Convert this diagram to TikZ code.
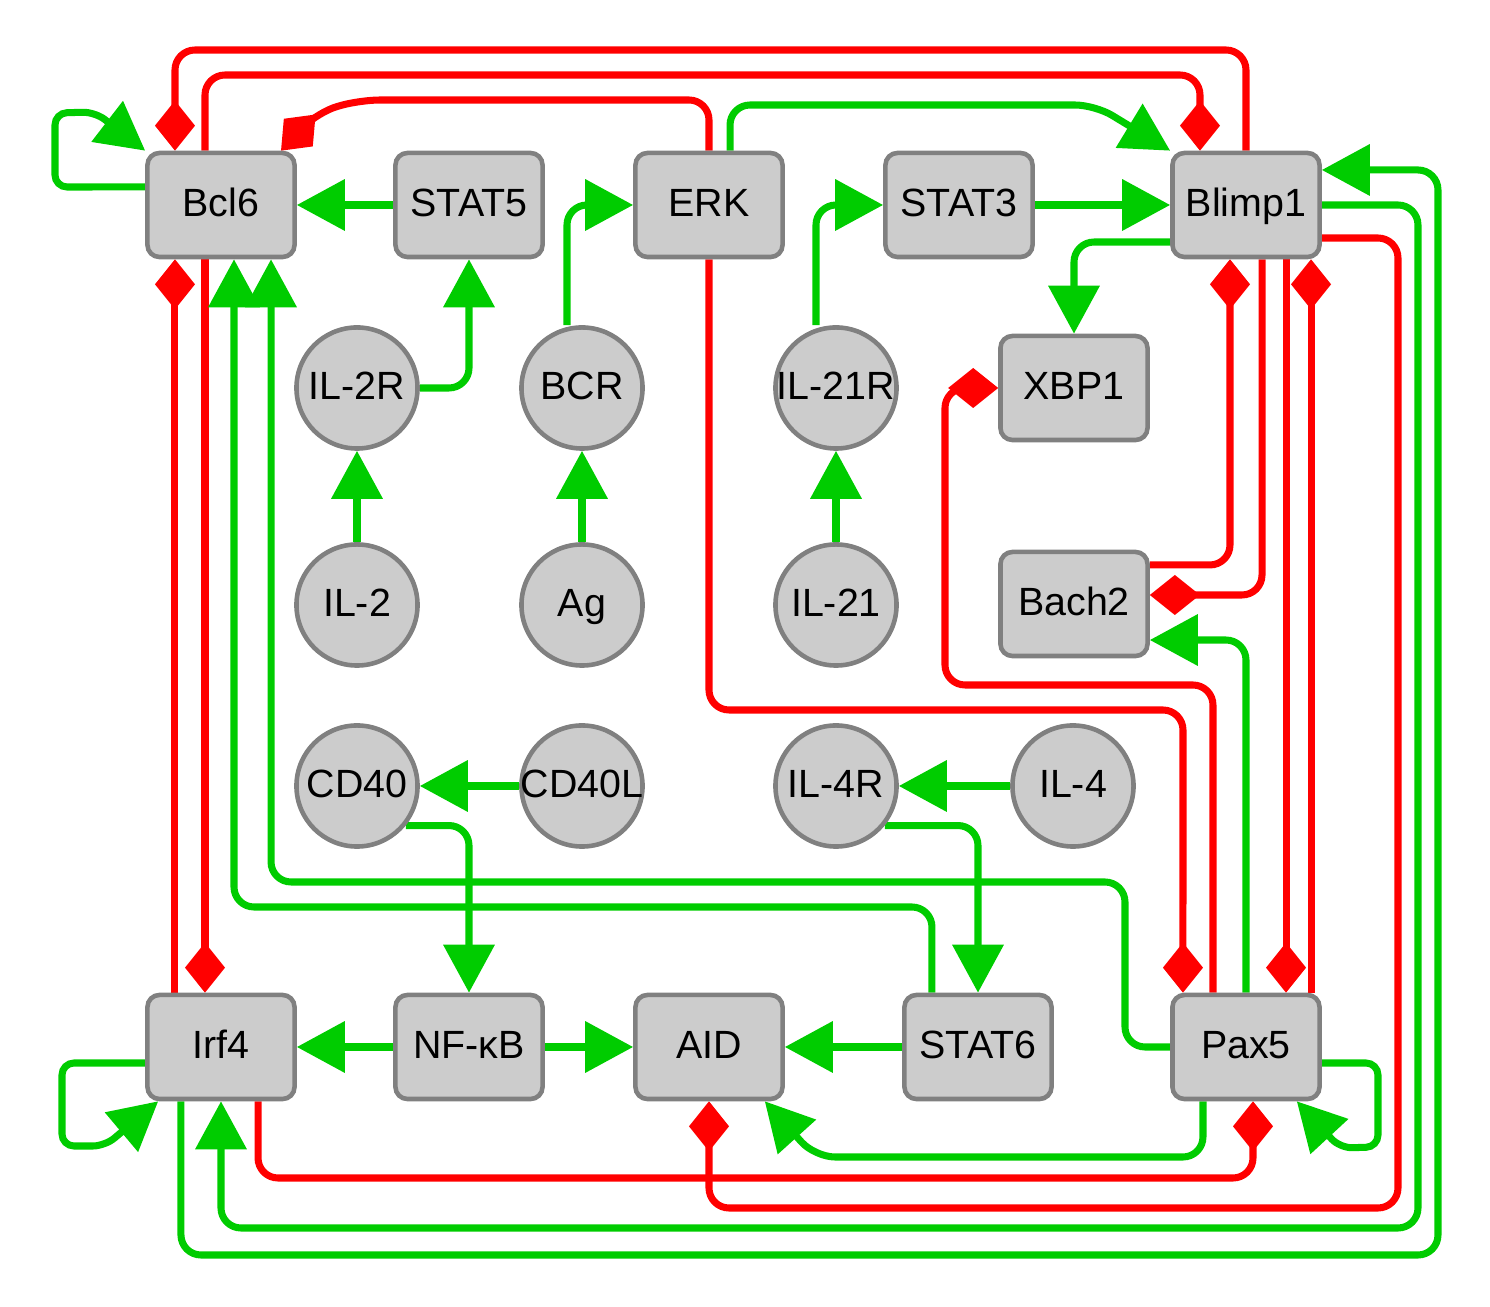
\documentclass[tikz,border=0pt]{standalone}
\usepackage{fontspec}
\setmainfont{Liberation Sans}
\usetikzlibrary{arrows.meta,backgrounds}
\definecolor{actgreen}{RGB}{0,204,0}
\definecolor{inhred}{RGB}{255,0,0}
\definecolor{nodefill}{RGB}{204,204,204}
\definecolor{nodeline}{RGB}{128,128,128}
\tikzset{
	gene/.style={rectangle, rounded corners=0.12cm, draw=nodeline, fill=nodefill, line width=1.3pt, minimum width=1.47cm, minimum height=1.04cm, text height=1.5ex, text depth=0.25ex},
	signal/.style={circle, draw=nodeline, fill=nodefill, line width=1.3pt, minimum size=1.21cm, inner sep=0pt},
	act/.style={draw=actgreen, line width=2pt, rounded corners=0.2cm, -{Triangle[length=0.48cm,width=0.5cm]}},
	inh/.style={draw=inhred, line width=2pt, rounded corners=0.2cm, -{Diamond[length=0.5cm,width=0.4cm]}},
	selfloop/.style={act, rounded corners=0.12cm}
}

\begin{document}
\begin{tikzpicture}[x=0.01cm, y=-0.01cm, font=\fontsize{11.2}{13}\selectfont]
	\useasboundingbox (0,0) rectangle (1490,1307);
	\foreach \n/\x/\y/\t in {Bcl6/221/205/Bcl6, STAT5/469/205/STAT5, ERK/709/205/ERK, STAT3/959/205/STAT3, Blimp1/1246/205/Blimp1, XBP1/1074/388/XBP1, Bach2/1074/604/Bach2, Irf4/221/1047/Irf4, NFkB/469/1047/NF-κB, AID/709/1047/AID, STAT6/978/1047/STAT6, Pax5/1246/1047/Pax5} {
		\node[gene] (\n) at (\x,\y) {\t};
	}
	\foreach \n/\x/\y/\t in {IL2R/357/388/IL-2R, BCR/582/388/BCR, IL21R/836/388/IL-21R, IL2/357/605/IL-2, Ag/582/605/Ag, IL21/836/605/IL-21, CD40/357/786/CD40, CD40L/582/786/CD40L, IL4R/836/786/IL-4R, IL4/1073/786/IL-4} {
		\node[signal, label={[text height=1.5ex, text depth=0.25ex]center:\t}] (\n) at (\x,\y) {};
	}

	\begin{scope}[on background layer]
		\draw[inh] (Blimp1.north) |- (175,50) -- ([xshift=-0.46cm]Bcl6.north);
		\draw[inh] ([xshift=-0.16cm]Bcl6.north) |- (1200,75) -- ([xshift=-0.46cm]Blimp1.north);
		\draw[inh] (ERK.north) |- (360,100) -- (318,112) -- ([xshift=0.6cm]Bcl6.north);
		\draw[inh] ([xshift=-0.16cm]Bcl6.south) -- ([xshift=-0.16cm]Irf4.north);
		\draw[inh] ([xshift=-0.46cm]Irf4.north) -- ([xshift=-0.46cm]Bcl6.south);
		\draw[inh] (ERK.south) |- (1183,710) -- ([xshift=-0.63cm]Pax5.north);
		\draw[inh] ([xshift=-0.33cm]Pax5.north) |- (945,685) |- (XBP1.west);
		\draw[inh] ([yshift=0.39cm]Bach2.east) -| ([xshift=-0.16cm]Blimp1.south);
		\draw[inh] ([xshift=0.16cm]Blimp1.south) |- ([yshift=0.09cm]Bach2.east);
		\draw[inh] ([xshift=0.4cm]Blimp1.south) -- ([xshift=0.4cm]Pax5.north);
		\draw[inh] ([xshift=0.65cm]Pax5.north) -- ([xshift=0.65cm]Blimp1.south);
		\draw[inh] ([xshift=0.37cm]Irf4.south) |- (1253,1178) -- ([xshift=0.07cm]Pax5.south);
		\draw[inh] ([yshift=-0.33cm]Blimp1.east) -| (1398,1208) -| (AID.south);

		\draw[selfloop] ([yshift=0.18cm]Bcl6.west) -- (55,187) -- (55,113) -- (95,112) -- (Bcl6.north west);
		\draw[act] (STAT5) -- (Bcl6);
		\draw[act] (IL2R) -| (STAT5);
		\draw[act] (IL2) -- (IL2R);
		\draw[act] (Ag) -- (BCR);
		\draw[act] ([xshift=-0.15cm]BCR.north) |- (ERK);
		\draw[act] (IL21) -- (IL21R);
		\draw[act] ([xshift=-0.2cm]IL21R.north) |- (STAT3);
		\draw[act] (STAT3) -- (Blimp1);
		\draw[act] ([xshift=0.21cm]ERK.north) |- (1095,105) -- (Blimp1.north west);
		\draw[act] ([yshift=-0.37cm]Blimp1.west) -| (XBP1);
		\draw[act] (Pax5) |- ([yshift=-0.36cm]Bach2.east);
		\draw[act] (Blimp1) -| (1418,1228) -| (Irf4);
		\draw[act] ([xshift=-0.4cm]Irf4.south) |- (1438,1255) |- ([yshift=0.35cm]Blimp1.east);
		\draw[selfloop] ([yshift=-0.16cm]Irf4.west) -- (62,1063) -- (62,1146) -- (105,1146) -- ([xshift=0.13cm]Irf4.south west);
		\draw[act] (NFkB) -- (Irf4);
		\draw[act] (NFkB) -- (AID);
		\draw[act] (STAT6) -- (AID);
		\draw[act] (CD40L) -- (CD40);
		\draw[act] (IL4) -- (IL4R);
		\draw[act] (CD40.-39) -| (NFkB);
		\draw[act] (IL4R.-39) -| (STAT6);
		\draw[act] ([xshift=-0.46cm]STAT6.north) |- (234,907) -- ([xshift=0.13cm]Bcl6.south);
		\draw[act] (Pax5) -| (1125,882) -| ([xshift=0.5cm]Bcl6.south);
		\draw[act] ([xshift=-0.43cm]Pax5.south) |- (815,1157) -- ([xshift=-0.2cm]AID.south east);
		\draw[selfloop] ([yshift=-0.16cm]Pax5.east) -- (1378,1063) -- (1378,1147) -- (1340,1148) -- ([xshift=-0.25cm]Pax5.south east);
	\end{scope}
\end{tikzpicture}
\end{document}
